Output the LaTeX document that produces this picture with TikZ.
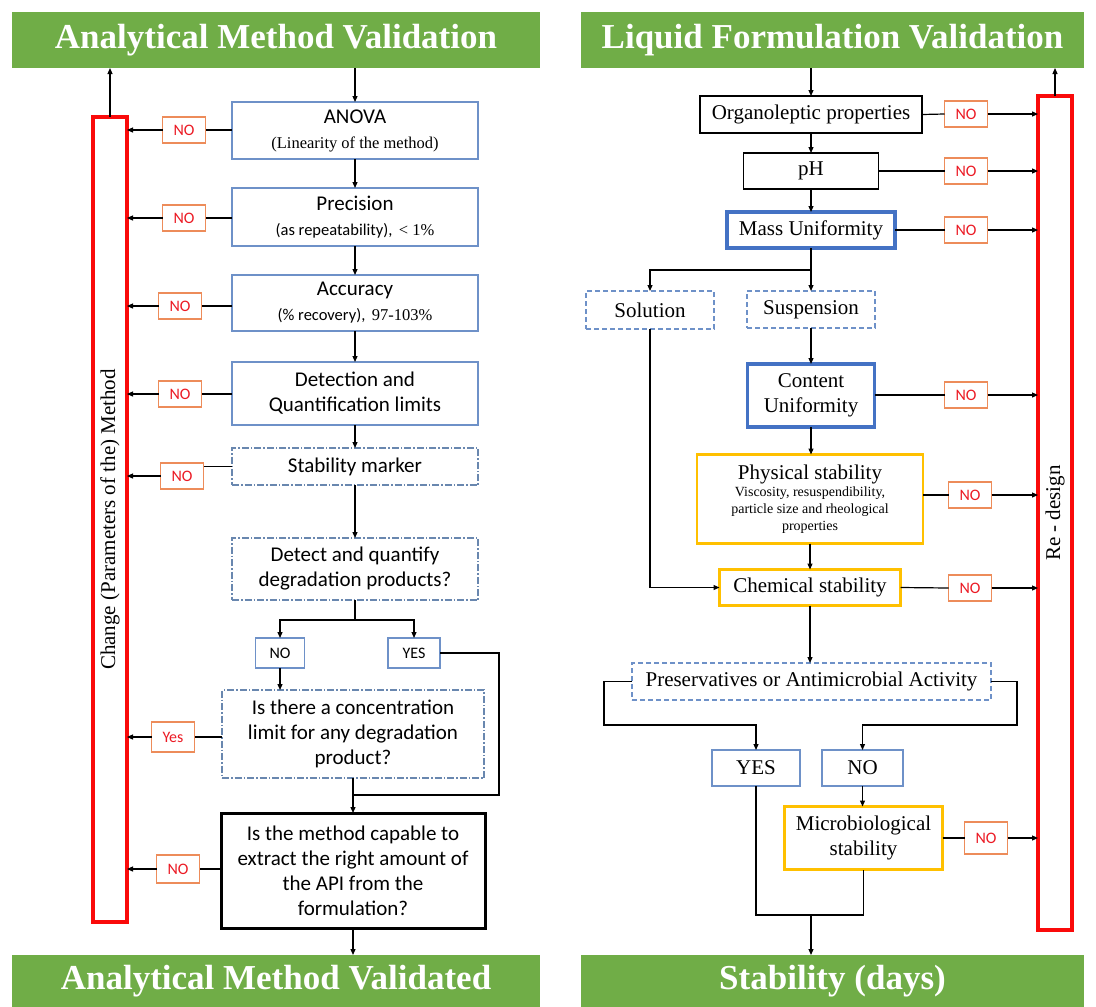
\documentclass[tikz,border=0pt]{standalone}
\usepackage{fontspec}
\setmainfont{Liberation Serif}
\newfontfamily\calib{Carlito}
\usetikzlibrary{positioning,arrows.meta}
\definecolor{mygreen}{RGB}{112,173,71}
\definecolor{myblue}{RGB}{68,114,196}
\definecolor{mybluei}{RGB}{110,145,200}
\definecolor{mygrayb}{RGB}{105,135,175}
\definecolor{myorange}{RGB}{237,140,90}
\definecolor{myyellow}{RGB}{255,192,0}
\definecolor{myred}{RGB}{250,10,10}
\definecolor{mynored}{RGB}{235,25,35}

\begin{document}
\begin{tikzpicture}[x=1pt,y=-1pt,outer sep=0pt,
		hdrb/.style={
		  fill=mygreen,
		  text=white,
		  inner sep=0pt,
		  minimum height=56pt,
		  font={\bfseries\fontsize{35}{40}\selectfont}},
		boxb/.style={
		  draw,
		  line width=1.2pt,
		  align=center,
		  inner sep=2pt},
		leftb/.style={boxb,draw=mybluei,minimum width=246pt,
		  font={\calib\fontsize{21}{25}\selectfont}},
		dotb/.style={leftb,draw=mygrayb,
		  dash pattern=on 7pt off 2pt on 1.5pt off 2pt},
		rightb/.style={boxb,font={\fontsize{21}{25}\selectfont}},
		dashb/.style={rightb,draw=mybluei,dash pattern=on 5pt off 3pt},
		thickb/.style={rightb,draw=myblue,line width=3.5pt},
		yelb/.style={rightb,draw=myyellow,line width=2.5pt},
		nob/.style={
		  draw=myorange,
		  line width=1.2pt,
		  text=mynored,
		  minimum width=43pt,
		  minimum height=26pt,
		  inner sep=1pt,
		  font={\calib\fontsize{16}{19}\selectfont}},
		redb/.style={draw=myred,line width=4pt,minimum width=34pt},
		arr/.style={-{Triangle[length=6pt,width=5pt]}},
		every path/.style={line width=1.2pt},
		]
		\useasboundingbox (0,0) rectangle (1096,1007);
		% left: analytical method
		\node[hdrb,minimum width=528pt] (AMV) at (276,40) {Analytical Method Validation};
		\node[hdrb,minimum width=528pt,minimum height=52pt] (AMd) at (276,981) {Analytical Method Validated};
		\node[redb,minimum height=805pt,
		  label={[rotate=90,font={\fontsize{21}{25}\selectfont}]center:Change (Parameters of the) Method}] (ChL) at (110,519.5) {};
		\node[leftb,minimum height=57pt] (ANO) at (355,130.5) {ANOVA\\{\rmfamily\fontsize{16.5}{19}\selectfont (Linearity of the method)}};
		\node[leftb,minimum height=58pt] (Pre) at (355,217) {Precision\\{\fontsize{16.5}{19}\selectfont (as repeatability), \,{\rmfamily < 1\%}}};
		\node[leftb,minimum height=56pt] (Acc) at (355,303) {Accuracy\\{\fontsize{16.5}{19}\selectfont (\% recovery), \,{\rmfamily 97-103\%}}};
		\node[leftb,minimum height=63pt] (Det) at (355,393.5) {Detection and\\Quantification limits};
		\node[dotb,minimum height=37pt] (Stm) at (355,466.5) {Stability marker};
		\node[dotb,minimum height=62pt] (Dqd) at (355,569) {Detect and quantify\\degradation products?};
		\node[leftb,minimum width=49pt,minimum height=30pt,font={\calib\fontsize{16}{19}\selectfont}] (NoL) at (280,653) {NO};
		\node[leftb,minimum width=52pt,minimum height=30pt,font={\calib\fontsize{16}{19}\selectfont}] (YeL) at (414,653) {YES};
		\node[dotb,minimum width=262pt,minimum height=88pt] (Con) at (353,734) {Is there a concentration\\limit for any degradation\\product?};
		\node[leftb,draw=black,line width=3pt,minimum width=264pt,minimum height=115pt] (Cap) at (353,870.5) {Is the method capable to\\extract the right amount of\\the API from the\\formulation?};
		\node[nob] (N1) at (184,130) {NO};
		\node[nob] (N2) at (184,218) {NO};
		\node[nob] (N3) at (180,306) {NO};
		\node[nob] (N4) at (180,394) {NO};
		\node[nob] (N5) at (182,476) {NO};
		\node[nob,minimum height=30pt] (YsL) at (173,737) {Yes};
		\node[nob,minimum height=28pt] (N6) at (178,869) {NO};
		\coordinate (B1) at (355,620);
		\coordinate (B2) at (499,795);
		\draw[arr] (AMV.south -| ANO.north) -- (ANO.north);
		\draw[arr] (ANO.south) -- (Pre.north);
		\draw[arr] (Pre.south) -- (Acc.north);
		\draw[arr] (Acc.south) -- (Det.north);
		\draw[arr] (Det.south) -- (Stm.north);
		\draw[arr] (Stm.south) -- (Dqd.north);
		\draw (Dqd.south) -- (B1);
		\draw[arr] (B1) -| (NoL.north);
		\draw[arr] (B1) -| (YeL.north);
		\draw[arr] (NoL.south) -- (NoL.south |- Con.north);
		\draw[arr] (Con.south) -- (Cap.north);
		\draw (YeL.east) -| (B2) -- (B2 -| Cap.north);
		\draw[arr] (Cap.south) -- (Cap.south |- AMd.north);
		\draw[arr] (ChL.north) -- (ChL.north |- AMV.south);
		\draw (ANO.west |- N1) -- (N1.east);
		\draw[arr] (N1.west) -- (N1.west -| ChL.east);
		\draw (Pre.west |- N2) -- (N2.east);
		\draw[arr] (N2.west) -- (N2.west -| ChL.east);
		\draw (Acc.west |- N3) -- (N3.east);
		\draw[arr] (N3.west) -- (N3.west -| ChL.east);
		\draw (Det.west |- N4) -- (N4.east);
		\draw[arr] (N4.west) -- (N4.west -| ChL.east);
		\draw (Stm.west) -- (Stm.west -| N5.east);
		\draw[arr] (N5.west) -- (N5.west -| ChL.east);
		\draw (Con.west |- YsL) -- (YsL.east);
		\draw[arr] (YsL.west) -- (YsL.west -| ChL.east);
		\draw (Cap.west |- N6) -- (N6.east);
		\draw[arr] (N6.west) -- (N6.west -| ChL.east);
		% right: liquid formulation
		\node[hdrb,minimum width=503pt] (LFV) at (832.5,40) {Liquid Formulation Validation};
		\node[hdrb,minimum width=503pt,minimum height=52pt] (Stb) at (832.5,981) {Stability (days)};
		\node[redb,minimum height=834pt,
		  label={[rotate=90,font={\fontsize{21}{25}\selectfont}]center:Re - design}] (RdR) at (1055,513) {};
		\node[rightb,minimum width=222pt,minimum height=37pt] (Org) at (811,114.5) {Organoleptic properties};
		\node[rightb,minimum width=135pt,minimum height=36pt] (pHv) at (811,171) {pH};
		\node[thickb,minimum width=168pt,minimum height=36pt] (Mas) at (811,230) {Mass Uniformity};
		\node[dashb,minimum width=128pt,minimum height=38pt] (Sol) at (650,310) {Solution};
		\node[dashb,minimum width=128pt,minimum height=37pt] (Sus) at (811,309.5) {Suspension};
		\node[thickb,minimum width=127pt,minimum height=63pt] (Cnt) at (811,395.5) {Content\\Uniformity};
		\node[yelb,minimum width=226pt,minimum height=89pt,font={\fontsize{14}{17}\selectfont}] (Phy) at (810,499) {{\fontsize{21}{25}\selectfont Physical stability}\\Viscosity, resuspendibility,\\particle size and rheological\\properties};
		\node[yelb,minimum width=181pt,minimum height=36pt] (Chm) at (810,587.5) {Chemical stability};
		\node[dashb,minimum width=359pt,minimum height=37pt] (Prs) at (811.5,681.5) {Preservatives or Antimicrobial Activity};
		\node[rightb,draw=mybluei,minimum width=88pt,minimum height=36pt] (YeR) at (756,768) {YES};
		\node[rightb,draw=mybluei,minimum width=81pt,minimum height=36pt] (NoR) at (862.5,768) {NO};
		\node[yelb,minimum width=158pt,minimum height=63pt] (Mic) at (863.5,838) {Microbiological\\stability};
		\node[nob] (N7) at (966,114) {NO};
		\node[nob] (N8) at (966,171) {NO};
		\node[nob] (N9) at (966,230) {NO};
		\node[nob] (N10) at (966,395) {NO};
		\node[nob] (N11) at (970,495) {NO};
		\node[nob] (N12) at (970,588) {NO};
		\node[nob,minimum height=32pt] (N13) at (986,838) {NO};
		\coordinate (B3) at (811,270);
		\coordinate (B4) at (604,725);
		\coordinate (B5) at (1017,725);
		\coordinate (B6) at (811,915);
		\draw[arr] (LFV.south -| Org.north) -- (Org.north);
		\draw[arr] (Org.south) -- (pHv.north);
		\draw[arr] (pHv.south) -- (Mas.north);
		\draw (Mas.south) -- (B3);
		\draw[arr] (B3) -| (Sol.north);
		\draw[arr] (B3) -- (Sus.north);
		\draw[arr] (Sus.south) -- (Cnt.north);
		\draw[arr] (Cnt.south) -- (Cnt.south |- Phy.north);
		\draw[arr] (Phy.south) -- (Phy.south |- Chm.north);
		\draw[arr] (Sol.south) |- (Chm.west);
		\draw[arr] (Chm.south) -- (Chm.south |- Prs.north);
		\draw[arr] (Prs.west) -| (B4) -| (YeR.north);
		\draw[arr] (Prs.east) -| (B5) -| (NoR.north);
		\draw[arr] (NoR.south) -- (NoR.south |- Mic.north);
		\draw (YeR.south) |- (B6 -| Mic.south) -- (Mic.south);
		\draw[arr] (B6) -- (B6 |- Stb.north);
		\draw[arr] (RdR.north) -- (RdR.north |- LFV.south);
		\draw (Org.east) -- (N7.west);
		\draw[arr] (N7.east) -- (N7.east -| RdR.west);
		\draw (pHv.east) -- (N8.west);
		\draw[arr] (N8.east) -- (N8.east -| RdR.west);
		\draw (Mas.east) -- (N9.west);
		\draw[arr] (N9.east) -- (N9.east -| RdR.west);
		\draw (Cnt.east |- N10) -- (N10.west);
		\draw[arr] (N10.east) -- (N10.east -| RdR.west);
		\draw (Phy.east |- N11) -- (N11.west);
		\draw[arr] (N11.east) -- (N11.east -| RdR.west);
		\draw (Chm.east) -- (N12.west);
		\draw[arr] (N12.east) -- (N12.east -| RdR.west);
		\draw (Mic.east) -- (N13.west);
		\draw[arr] (N13.east) -- (N13.east -| RdR.west);
		\end{tikzpicture}
\end{document}
